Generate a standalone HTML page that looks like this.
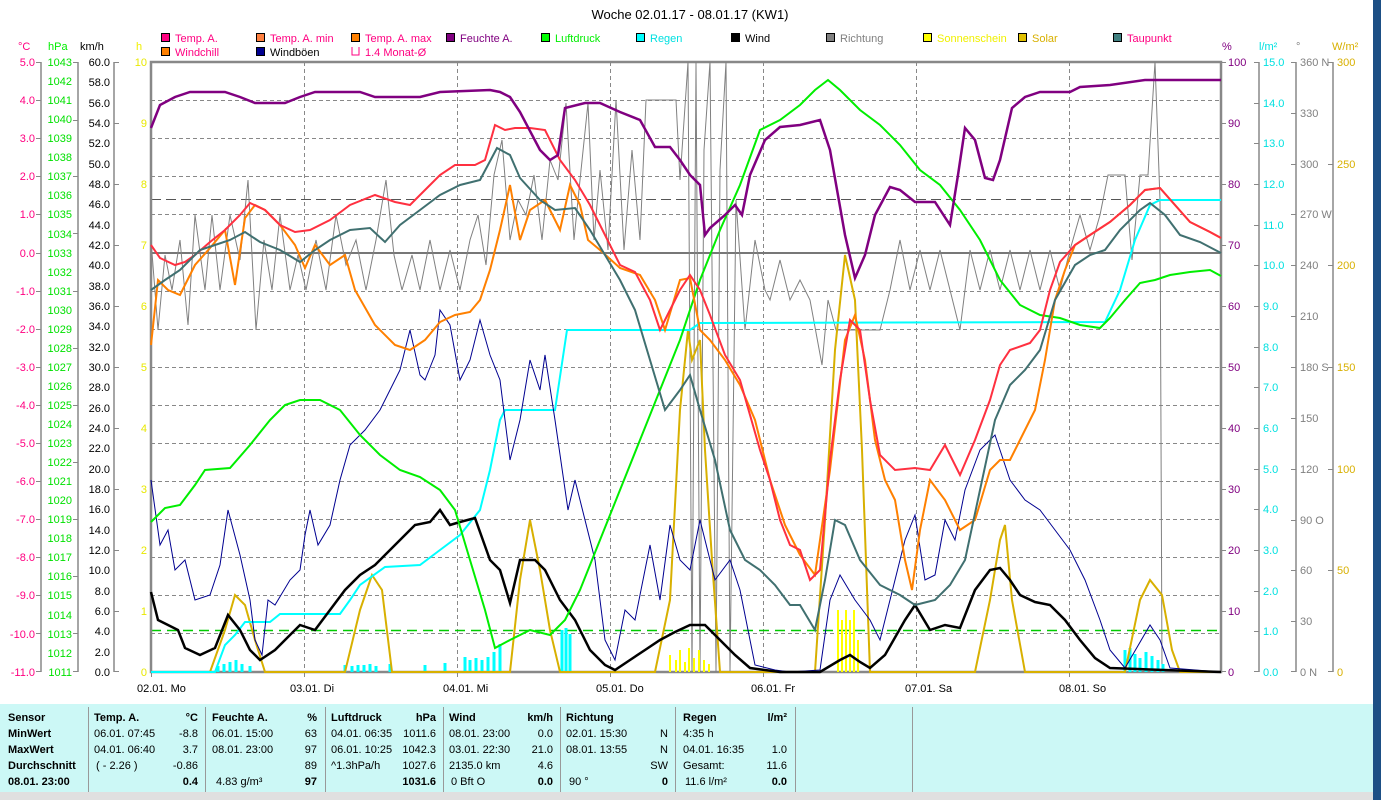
<!DOCTYPE html>
<html><head><meta charset="utf-8"><style>
body{margin:0;width:1381px;height:800px;background:#fff;overflow:hidden;font-family:"Liberation Sans",sans-serif}
svg{position:absolute;left:0;top:0}
text{font-family:"Liberation Sans",sans-serif;font-size:11px}
</style></head><body>
<svg width="1381" height="800" viewBox="0 0 1381 800">
<rect x="1373" y="0" width="8" height="800" fill="#1d4f85"/>
<text x="690" y="19" text-anchor="middle" font-size="13" style="font-size:13px">Woche 02.01.17 - 08.01.17 (KW1)</text>
<g stroke="#000" stroke-width="1">
<rect x="161.5" y="33.5" width="8" height="8" fill="#ff0080"/><rect x="256.5" y="33.5" width="8" height="8" fill="#ff8040"/><rect x="351.5" y="33.5" width="8" height="8" fill="#ff8000"/><rect x="446.5" y="33.5" width="8" height="8" fill="#800080"/><rect x="541.5" y="33.5" width="8" height="8" fill="#00ff00"/><rect x="636.5" y="33.5" width="8" height="8" fill="#00ffff"/><rect x="731.5" y="33.5" width="8" height="8" fill="#000"/><rect x="826.5" y="33.5" width="8" height="8" fill="#808080"/><rect x="923.5" y="33.5" width="8" height="8" fill="#ffff00"/><rect x="1018.5" y="33.5" width="8" height="8" fill="#e0c000"/><rect x="1113.5" y="33.5" width="8" height="8" fill="#408080"/>
<rect x="161.5" y="47.5" width="8" height="8" fill="#ff8000"/><rect x="256.5" y="47.5" width="8" height="8" fill="#000090"/>
</g>
<path d="M352 47v8h7v-8" fill="none" stroke="#ff0080"/>
<g font-size="11">
<text x="175" y="42" fill="#ff0080">Temp. A.</text><text x="270" y="42" fill="#ff0080">Temp. A. min</text><text x="365" y="42" fill="#ff0080">Temp. A. max</text><text x="460" y="42" fill="#800080">Feuchte A.</text><text x="555" y="42" fill="#00ee00">Luftdruck</text><text x="650" y="42" fill="#00e0e0">Regen</text><text x="745" y="42" fill="#000">Wind</text><text x="840" y="42" fill="#808080">Richtung</text><text x="937" y="42" fill="#f0f000">Sonnenschein</text><text x="1032" y="42" fill="#d8b000">Solar</text><text x="1127" y="42" fill="#ff0080">Taupunkt</text>
<text x="175" y="56" fill="#ff0080">Windchill</text><text x="270" y="56" fill="#000">Windböen</text><text x="365" y="56" fill="#ff0080">1.4 Monat-Ø</text>
</g>
<text x="18" y="50" fill="#ff0080">°C</text><text x="48" y="50" fill="#00ee00">hPa</text><text x="80" y="50" fill="#000">km/h</text><text x="136" y="50" fill="#f0f000">h</text>
<text x="1222" y="50" fill="#800080">%</text><text x="1259" y="50" fill="#00e0e0">l/m²</text><text x="1296" y="50" fill="#808080">°</text><text x="1332" y="50" fill="#d8b000">W/m²</text>
<g stroke="#888" stroke-dasharray="4,3" stroke-width="1">
<path d="M151 100.5H1221M151 138.5H1221M151 176.5H1221M151 214.5H1221M151 253.5H1221M151 291.5H1221M151 329.5H1221M151 367.5H1221M151 405.5H1221M151 443.5H1221M151 481.5H1221M151 519.5H1221M151 557.5H1221M151 595.5H1221M151 633.5H1221"/>
<path d="M304.5 62V672M457.5 62V672M610.5 62V672M763.5 62V672M916.5 62V672M1069.5 62V672"/>
</g>
<line x1="151" y1="199.5" x2="1221" y2="199.5" stroke="#555" stroke-dasharray="10,5"/>
<line x1="151" y1="253" x2="1221" y2="253" stroke="#777" stroke-width="2"/>
<line x1="151" y1="630.5" x2="1221" y2="630.5" stroke="#00cc00" stroke-dasharray="10,6" stroke-width="1.5"/>
<g stroke="#888" stroke-width="1.5" fill="none">
<path d="M41 62V672M78 62V672M114 62V672M1259 62V672M1296 62V672M1333 62V672"/>
</g>
<rect x="151" y="62" width="1070" height="610" fill="none" stroke="#888" stroke-width="2.5"/>
<g fill="#ff0080" text-anchor="end">
<text x="35" y="66">5.0</text><text x="35" y="104">4.0</text><text x="35" y="142">3.0</text><text x="35" y="180">2.0</text><text x="35" y="218">1.0</text><text x="35" y="257">0.0</text><text x="35" y="295">-1.0</text><text x="35" y="333">-2.0</text><text x="35" y="371">-3.0</text><text x="35" y="409">-4.0</text><text x="35" y="447">-5.0</text><text x="35" y="485">-6.0</text><text x="35" y="523">-7.0</text><text x="35" y="561">-8.0</text><text x="35" y="599">-9.0</text><text x="35" y="638">-10.0</text><text x="35" y="676">-11.0</text>
</g>
<g fill="#00e000" text-anchor="end">
<text x="72" y="66">1043</text><text x="72" y="85">1042</text><text x="72" y="104">1041</text><text x="72" y="123">1040</text><text x="72" y="142">1039</text><text x="72" y="161">1038</text><text x="72" y="180">1037</text><text x="72" y="199">1036</text><text x="72" y="218">1035</text><text x="72" y="238">1034</text><text x="72" y="257">1033</text><text x="72" y="276">1032</text><text x="72" y="295">1031</text><text x="72" y="314">1030</text><text x="72" y="333">1029</text><text x="72" y="352">1028</text><text x="72" y="371">1027</text><text x="72" y="390">1026</text><text x="72" y="409">1025</text><text x="72" y="428">1024</text><text x="72" y="447">1023</text><text x="72" y="466">1022</text><text x="72" y="485">1021</text><text x="72" y="504">1020</text><text x="72" y="523">1019</text><text x="72" y="542">1018</text><text x="72" y="561">1017</text><text x="72" y="580">1016</text><text x="72" y="599">1015</text><text x="72" y="619">1014</text><text x="72" y="638">1013</text><text x="72" y="657">1012</text><text x="72" y="676">1011</text>
</g>
<g fill="#000" text-anchor="end">
<text x="110" y="66">60.0</text><text x="110" y="86">58.0</text><text x="110" y="107">56.0</text><text x="110" y="127">54.0</text><text x="110" y="147">52.0</text><text x="110" y="168">50.0</text><text x="110" y="188">48.0</text><text x="110" y="208">46.0</text><text x="110" y="229">44.0</text><text x="110" y="249">42.0</text><text x="110" y="269">40.0</text><text x="110" y="290">38.0</text><text x="110" y="310">36.0</text><text x="110" y="330">34.0</text><text x="110" y="351">32.0</text><text x="110" y="371">30.0</text><text x="110" y="391">28.0</text><text x="110" y="412">26.0</text><text x="110" y="432">24.0</text><text x="110" y="452">22.0</text><text x="110" y="473">20.0</text><text x="110" y="493">18.0</text><text x="110" y="513">16.0</text><text x="110" y="534">14.0</text><text x="110" y="554">12.0</text><text x="110" y="574">10.0</text><text x="110" y="595">8.0</text><text x="110" y="615">6.0</text><text x="110" y="635">4.0</text><text x="110" y="656">2.0</text><text x="110" y="676">0.0</text>
</g>
<g fill="#e8e800" text-anchor="end">
<text x="147" y="66">10</text><text x="147" y="127">9</text><text x="147" y="188">8</text><text x="147" y="249">7</text><text x="147" y="310">6</text><text x="147" y="371">5</text><text x="147" y="432">4</text><text x="147" y="493">3</text><text x="147" y="554">2</text><text x="147" y="615">1</text><text x="147" y="676">0</text>
</g>
<g stroke="#888"><path d="M36 62.5h5M36 100.5h5M36 138.5h5M36 176.5h5M36 214.5h5M36 253.5h5M36 291.5h5M36 329.5h5M36 367.5h5M36 405.5h5M36 443.5h5M36 481.5h5M36 519.5h5M36 557.5h5M36 595.5h5M36 633.5h5M36 671.5h5M73 62.5h5M73 120.5h5M73 176.5h5M73 233.5h5M73 291.5h5M73 348.5h5M73 405.5h5M73 462.5h5M73 519.5h5M73 576.5h5M73 633.5h5M73 671.5h5M114 62.5h5M114 123.5h5M114 184.5h5M114 245.5h5M114 306.5h5M114 367.5h5M114 428.5h5M114 489.5h5M114 550.5h5M114 611.5h5M114 671.5h5M1221 62.5h5M1221 123.5h5M1221 184.5h5M1221 245.5h5M1221 306.5h5M1221 367.5h5M1221 428.5h5M1221 489.5h5M1221 550.5h5M1221 611.5h5M1221 671.5h5M1254 62.5h5M1254 103.5h5M1254 143.5h5M1254 184.5h5M1254 225.5h5M1254 265.5h5M1254 306.5h5M1254 347.5h5M1254 387.5h5M1254 428.5h5M1254 469.5h5M1254 509.5h5M1254 550.5h5M1254 591.5h5M1254 631.5h5M1254 671.5h5M1291 62.5h5M1291 113.5h5M1291 164.5h5M1291 214.5h5M1291 265.5h5M1291 316.5h5M1291 367.5h5M1291 418.5h5M1291 469.5h5M1291 520.5h5M1291 570.5h5M1291 621.5h5M1291 671.5h5M1328 62.5h5M1328 164.5h5M1328 265.5h5M1328 367.5h5M1328 469.5h5M1328 570.5h5M1328 671.5h5"/></g>
<g fill="#800080"><text x="1228" y="66">100</text><text x="1228" y="127">90</text><text x="1228" y="188">80</text><text x="1228" y="249">70</text><text x="1228" y="310">60</text><text x="1228" y="371">50</text><text x="1228" y="432">40</text><text x="1228" y="493">30</text><text x="1228" y="554">20</text><text x="1228" y="615">10</text><text x="1228" y="676">0</text></g>
<g fill="#00e0e0"><text x="1263" y="66">15.0</text><text x="1263" y="107">14.0</text><text x="1263" y="147">13.0</text><text x="1263" y="188">12.0</text><text x="1263" y="229">11.0</text><text x="1263" y="269">10.0</text><text x="1263" y="310">9.0</text><text x="1263" y="351">8.0</text><text x="1263" y="391">7.0</text><text x="1263" y="432">6.0</text><text x="1263" y="473">5.0</text><text x="1263" y="513">4.0</text><text x="1263" y="554">3.0</text><text x="1263" y="595">2.0</text><text x="1263" y="635">1.0</text><text x="1263" y="676">0.0</text></g>
<g fill="#808080"><text x="1300" y="66">360 N</text><text x="1300" y="117">330</text><text x="1300" y="168">300</text><text x="1300" y="218">270 W</text><text x="1300" y="269">240</text><text x="1300" y="320">210</text><text x="1300" y="371">180 S</text><text x="1300" y="422">150</text><text x="1300" y="473">120</text><text x="1300" y="524">90 O</text><text x="1300" y="574">60</text><text x="1300" y="625">30</text><text x="1300" y="676">0 N</text></g>
<g fill="#d8b000"><text x="1337" y="66">300</text><text x="1337" y="168">250</text><text x="1337" y="269">200</text><text x="1337" y="371">150</text><text x="1337" y="473">100</text><text x="1337" y="574">50</text><text x="1337" y="676">0</text></g>
<g stroke="#888"><path d="M151.5 672v5M304.5 672v5M457.5 672v5M610.5 672v5M763.5 672v5M916.5 672v5M1069.5 672v5"/></g>
<g fill="#000"><text x="137" y="692">02.01. Mo</text><text x="290" y="692">03.01. Di</text><text x="443" y="692">04.01. Mi</text><text x="596" y="692">05.01. Do</text><text x="751" y="692">06.01. Fr</text><text x="905" y="692">07.01. Sa</text><text x="1059" y="692">08.01. So</text></g>
<polyline fill="none" stroke="#808080" stroke-width="1" points="151,240 158,330 165,255 172,290 180,240 188,325 195,215 205,290 212,215 220,290 230,215 240,260 248,180 256,330 264,240 272,290 280,215 290,290 298,255 306,290 316,240 326,290 336,215 346,265 356,240 366,290 376,240 386,180 394,255 402,290 412,255 420,290 430,240 440,290 450,250 460,290 470,240 478,215 486,265 494,175 502,140 510,240 518,200 526,215 534,175 542,240 550,160 558,180 566,103 574,240 580,180 588,103 594,240 600,170 608,250 616,100 624,250 632,150 640,240 646,100 676,100 680,180 688,62 692,672 696,62 700,672 704,150 710,62 716,672 720,170 726,62 730,672 736,200 745,330 755,240 765,290 770,300 780,260 790,300 800,280 810,300 822,365 828,300 836,330 880,330 890,290 900,240 910,290 920,250 930,290 940,250 950,290 960,330 970,250 980,290 990,250 1000,290 1010,250 1020,290 1030,250 1040,290 1050,250 1060,290 1070,250 1080,215 1090,250 1100,215 1108,175 1125,175 1132,260 1140,175 1148,175 1155,62 1160,200 1162,672"/>
<g stroke="#ffff00" stroke-width="2"><path d="M670 672V655M676 672V660M680 672V650M685 672V662M689 672V648M694 672V658M699 672V650M704 672V660M709 672V664M838 672V610M842 672V620M846 672V610M850 672V620M854 672V610M858 672V640"/></g>
<g stroke="#00ffff" stroke-width="3"><path d="M218 672v-6M224 672v-8M230 672v-10M236 672v-12M242 672v-8M250 672v-6M345 672v-7M352 672v-6M358 672v-7M364 672v-7M370 672v-8M376 672v-6M390 672v-8M425 672v-7M445 672v-9M465 672v-15M470 672v-12M476 672v-14M482 672v-12M488 672v-15M494 672v-20M500 672v-28M562 672v-42M566 672v-44M570 672v-38M1125 672v-22M1130 672v-24M1135 672v-18M1140 672v-14M1146 672v-20M1152 672v-16M1158 672v-12M1163 672v-8"/></g>
<polyline fill="none" stroke="#d8b000" stroke-width="2" points="151,672 210,672 225,630 235,595 245,605 255,640 265,672 345,672 360,610 372,575 382,590 392,672 510,672 520,580 530,520 540,570 550,630 560,672 655,672 670,600 680,410 688,330 692,360 700,340 705,450 712,560 720,672 815,672 825,520 835,350 845,255 855,300 862,450 870,672 975,672 990,600 1000,540 1005,525 1012,600 1025,672 1125,672 1140,600 1150,580 1162,595 1172,650 1180,672 1221,672"/>
<polyline fill="none" stroke="#00ffff" stroke-width="2" points="151,672 215,672 225,645 235,635 245,622 270,622 280,614 340,614 350,600 360,585 385,567 420,565 440,550 460,535 480,510 490,470 500,420 505,410 555,410 567,330 690,330 700,323 1105,322 1120,290 1135,240 1150,205 1160,200 1221,200"/>
<polyline fill="none" stroke="#000090" stroke-width="1" points="151,480 160,545 168,530 175,570 185,560 195,600 210,595 220,565 228,510 240,555 250,600 255,640 262,655 268,600 275,605 290,580 300,570 305,535 310,510 318,545 330,525 340,480 350,445 365,430 380,410 400,370 410,330 420,375 425,380 435,355 440,310 450,325 460,380 470,360 480,320 490,355 500,380 510,460 520,420 530,360 540,390 545,355 555,420 568,510 575,480 585,520 595,560 605,640 615,660 625,610 635,620 650,545 660,600 670,525 680,560 690,570 700,520 715,580 730,560 740,590 755,665 775,670 790,672 820,670 830,600 840,575 855,600 870,620 880,640 890,600 905,540 915,515 925,580 935,575 945,520 955,540 965,490 980,450 995,435 1010,480 1025,500 1040,510 1055,530 1070,550 1085,580 1100,620 1110,650 1125,668 1150,625 1160,640 1170,668 1221,672"/>
<polyline fill="none" stroke="#000" stroke-width="2.5" points="151,592 158,620 168,625 178,630 185,648 200,655 215,648 228,615 240,630 250,650 260,660 275,650 285,640 300,625 315,630 330,610 345,590 360,575 375,565 390,550 400,540 415,525 430,522 440,510 450,525 460,522 475,518 490,560 500,570 510,603 520,560 535,560 545,570 560,600 575,620 590,650 605,665 615,670 630,660 645,650 660,640 675,632 690,625 705,625 720,640 735,655 750,668 780,672 820,672 840,660 850,655 860,662 870,668 885,655 905,620 915,605 930,630 945,625 960,628 975,590 990,570 1000,568 1010,580 1020,595 1035,602 1050,605 1065,620 1080,640 1095,658 1110,668 1221,672"/>
<polyline fill="none" stroke="#00ee00" stroke-width="2" points="151,522 165,508 180,505 195,485 205,470 230,468 250,445 270,420 285,405 300,400 320,400 340,410 360,435 380,455 400,470 420,477 440,490 455,510 470,560 485,610 495,648 510,640 530,630 550,635 565,620 580,590 600,540 620,490 640,440 660,390 680,340 700,280 720,230 740,185 760,130 780,120 800,105 815,90 828,80 840,90 860,110 880,125 900,145 920,170 940,185 960,210 980,240 1000,280 1020,305 1040,315 1060,318 1080,325 1100,328 1110,318 1125,300 1140,283 1155,280 1170,275 1190,272 1210,270 1221,276"/>
<polyline fill="none" stroke="#ff8000" stroke-width="2" points="151,345 158,280 168,290 180,295 195,265 210,248 225,230 235,285 245,218 255,205 265,210 280,225 295,245 305,268 315,245 330,265 345,255 355,290 375,325 395,345 410,350 425,340 440,322 455,315 470,312 480,300 490,270 500,230 510,185 520,240 530,210 545,200 560,230 570,185 580,205 588,240 600,250 620,268 640,275 655,300 665,330 680,280 690,278 700,330 710,340 725,360 740,385 755,420 770,480 785,525 800,555 815,575 830,470 845,340 855,315 865,360 875,440 885,480 895,500 905,560 912,590 920,530 930,480 945,500 960,530 975,520 990,470 1000,460 1010,460 1020,440 1035,410 1045,360 1055,300 1065,270 1075,245 1090,235 1110,222 1130,205 1145,190 1160,188 1175,205 1190,222 1210,232 1221,238"/>
<polyline fill="none" stroke="#ff3040" stroke-width="2" points="151,245 160,258 175,265 185,262 195,255 210,242 225,230 240,215 250,203 265,210 280,225 295,232 310,230 330,220 350,205 375,195 395,202 410,205 425,190 440,175 455,165 475,165 485,160 495,125 505,130 515,128 530,128 545,130 560,160 575,180 590,205 605,235 620,265 635,272 650,300 660,330 670,310 680,290 690,275 700,290 710,315 725,355 740,380 750,415 760,450 770,480 780,520 790,545 800,550 810,580 820,570 830,460 840,380 850,320 860,330 870,400 880,455 895,470 915,468 930,470 945,445 960,475 975,440 990,400 1000,365 1010,350 1030,343 1040,330 1050,290 1060,262 1075,245 1090,235 1110,222 1130,205 1145,190 1160,188 1175,205 1190,222 1210,232 1221,238"/>
<polyline fill="none" stroke="#407070" stroke-width="2" points="151,290 165,280 180,270 200,250 215,245 230,240 245,232 260,242 280,250 300,262 315,250 330,240 350,230 370,228 385,242 400,225 420,210 440,195 460,185 480,180 497,148 510,155 520,178 540,200 555,210 575,208 590,230 605,255 620,280 635,310 650,360 665,410 680,390 690,375 700,410 715,460 730,530 745,560 760,570 775,585 790,605 800,605 815,630 825,580 835,520 845,525 860,560 880,585 900,595 915,605 935,600 950,585 965,560 980,490 995,420 1010,385 1025,370 1040,350 1055,300 1075,265 1090,255 1105,250 1120,230 1140,210 1150,203 1165,215 1180,235 1200,242 1221,253"/>
<polyline fill="none" stroke="#800080" stroke-width="2.5" points="151,128 160,105 175,97 190,92 225,92 240,97 255,103 285,103 300,97 315,92 360,92 375,97 420,97 440,92 490,90 500,92 510,97 520,112 540,150 550,160 558,155 565,108 585,103 600,103 620,112 640,120 655,147 670,147 680,160 690,175 700,185 705,235 710,228 725,215 735,205 742,215 750,175 765,140 780,127 800,125 820,120 830,150 845,235 855,278 865,255 875,215 890,187 900,190 915,202 935,202 950,225 958,175 965,128 975,140 985,178 993,180 1000,160 1012,108 1025,97 1040,92 1070,92 1080,87 1110,85 1145,80 1221,80"/>
<rect x="0" y="704" width="1373" height="88" fill="#ccf8f6"/>
<rect x="0" y="792" width="1373" height="8" fill="#e0e0e0"/>
<g stroke="#999"><path d="M88.5 707V792M205.5 707V792M325.5 707V792M443.5 707V792M560.5 707V792M675.5 707V792M795.5 707V792M912.5 707V792"/></g>
<g font-size="11">
<g font-weight="bold"><text x="8" y="721">Sensor</text><text x="8" y="737">MinWert</text><text x="8" y="753">MaxWert</text><text x="8" y="769">Durchschnitt</text><text x="8" y="785">08.01. 23:00</text>
<text x="94" y="721">Temp. A.</text><text x="212" y="721">Feuchte A.</text><text x="331" y="721">Luftdruck</text><text x="449" y="721">Wind</text><text x="566" y="721">Richtung</text><text x="683" y="721">Regen</text></g>
<g font-weight="bold" text-anchor="end"><text x="198" y="721">°C</text><text x="317" y="721">%</text><text x="436" y="721">hPa</text><text x="553" y="721">km/h</text><text x="787" y="721">l/m²</text>
<text x="198" y="785">0.4</text><text x="317" y="785">97</text><text x="436" y="785">1031.6</text><text x="553" y="785">0.0</text><text x="668" y="785">0</text><text x="787" y="785">0.0</text></g>
<text x="94" y="737">06.01.  07:45</text><text x="94" y="753">04.01.  06:40</text><text x="96" y="769">( - 2.26 )</text>
<text x="212" y="737">06.01.  15:00</text><text x="212" y="753">08.01.  23:00</text><text x="216" y="785">4.83 g/m³</text>
<text x="331" y="737">04.01.  06:35</text><text x="331" y="753">06.01.  10:25</text><text x="331" y="769">^1.3hPa/h</text>
<text x="449" y="737">08.01.  23:00</text><text x="449" y="753">03.01.  22:30</text><text x="449" y="769">2135.0 km</text><text x="451" y="785">0 Bft O</text>
<text x="566" y="737">02.01.  15:30</text><text x="566" y="753">08.01.  13:55</text><text x="569" y="785">90 °</text>
<text x="683" y="737">4:35 h</text><text x="683" y="753">04.01.  16:35</text><text x="683" y="769">Gesamt:</text><text x="685" y="785">11.6 l/m²</text>
<g text-anchor="end"><text x="198" y="737">-8.8</text><text x="198" y="753">3.7</text><text x="198" y="769">-0.86</text>
<text x="317" y="737">63</text><text x="317" y="753">97</text><text x="317" y="769">89</text>
<text x="436" y="737">1011.6</text><text x="436" y="753">1042.3</text><text x="436" y="769">1027.6</text>
<text x="553" y="737">0.0</text><text x="553" y="753">21.0</text><text x="553" y="769">4.6</text>
<text x="668" y="737">N</text><text x="668" y="753">N</text><text x="668" y="769">SW</text>
<text x="787" y="753">1.0</text><text x="787" y="769">11.6</text></g>
</g>
</svg>
</body></html>
